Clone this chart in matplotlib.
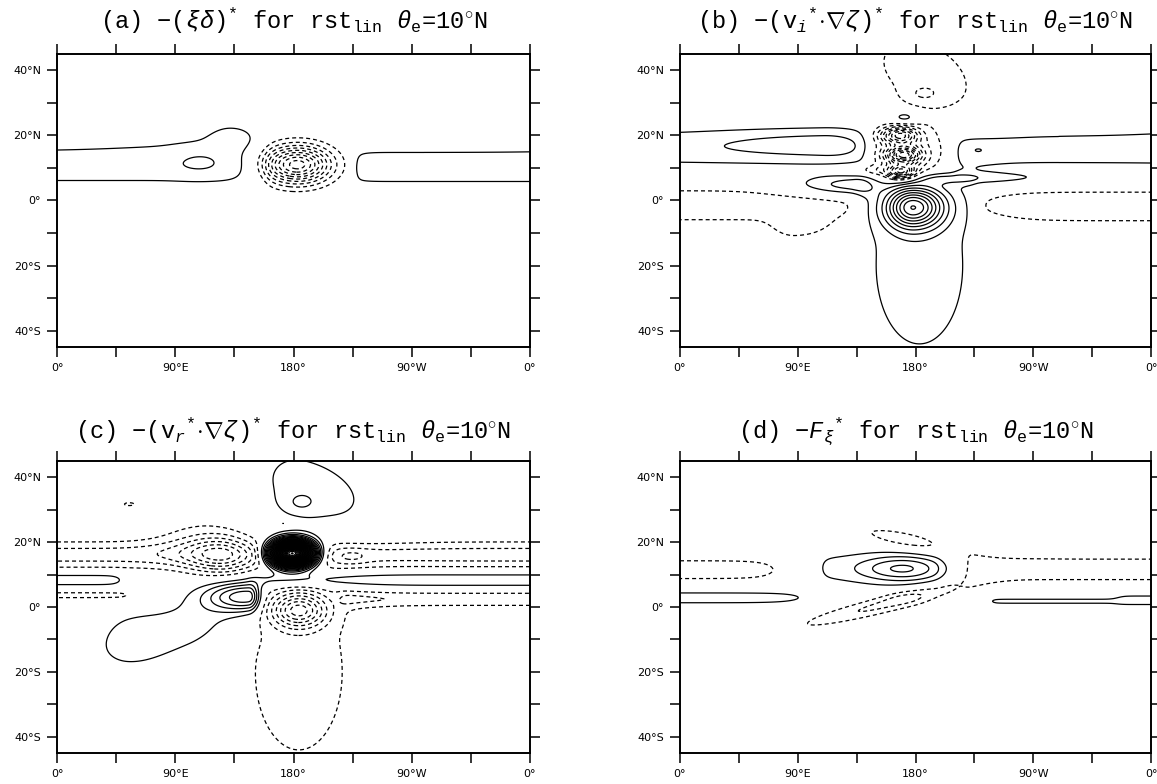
import numpy as np
import matplotlib
matplotlib.use("Agg")
import matplotlib.pyplot as plt

plt.rcParams['font.family'] = 'DejaVu Sans'
plt.rcParams['mathtext.fontset'] = 'custom'
plt.rcParams['mathtext.rm'] = 'Liberation Mono'
plt.rcParams['mathtext.it'] = 'Liberation Mono:italic'
plt.rcParams['mathtext.bf'] = 'Liberation Mono:bold'

lon = np.linspace(0, 360, 361)
lat = np.linspace(-45, 45, 361)
LON, LAT = np.meshgrid(lon, lat)

# features, contour interval = 1
# blob: lon0, lat0, sigma west, sigma east, sigma lat, amplitude, tilt (deg lat per deg lon)
# band: lat0, sigma lat, amplitude, west end, east end, end softness
a_bands = [
    (10.7, 4.7, 1.6, -400, 160, 6),
    (10.3, 4.6, 1.6, 226, 800, 3),
]
a_blobs = [
    (108, 12.3, 14, 14, 3.2, 0.6, 0),
    (100, 19.0, 60, 30, 3.0, 0.4, 0),
    (133, 19.5, 12, 14, 3.0, 1.2, 0),
    (183, 11.0, 18.4, 17, 3.9, -9.5, 0),
]

b_bands = [
    (16.0, 4.8, 1.5, -400, 143, 5),
    (15.6, 4.6, 1.5, 210, 800, 4),
    (-1.35, 5.05, -1.5, -400, 137, 6),
    (-1.75, 4.95, -1.5, 226, 800, 4),
]
b_blobs = [
    (110, 17.5, 60, 20, 3.0, 1.2, 0),
    (228, 15.5, 5, 5, 0.9, 0.55, 0),
    (175, 13.5, 18, 18, 6.0, -3.5, 0),
    (168, 20.0, 10, 9, 1.8, -7.0, 0),
    (171, 14.0, 9, 8, 1.7, -8.0, 0),
    (169, 8.8, 7, 7, 1.5, -7.0, 0),
    (148, 9.3, 22, 10, 1.2, -1.5, 0),
    (133, 4.6, 33, 12, 2.2, 2.8, 0),
    (178, -2.0, 14, 16, 4.5, 9.0, 0),
    (200, 6.8, 15, 60, 1.3, 1.8, 0),
    (183, -20.0, 36.7, 36.7, 26.7, 1.5, 0),
    (188, 38.0, 36, 36, 11, -1.6, -0.12),
    (186, 32.7, 10, 10, 2.0, -1.0, 0),
    (172, 25.5, 8, 8, 1.5, 2.0, 0),
    (88, -8.0, 12, 20, 3.0, -1.2, 0),
]

c_bands = [
    (16.1, 2.92, -2.5, -400, 800, 5),
    (8.4, 1.76, 1.8, 150, 800, 8),
    (8.45, 1.45, 1.8, -400, 49, 8),
    (2.45, 1.8, -1.8, 215, 800, 5),
    (3.65, 0.7, -1.8, -400, 54, 6),
]
c_blobs = [
    (179, 16.5, 11, 11, 2.6, 40, 0),
    (125, 16.0, 18, 14, 4.0, -3.5, 0),
    (108, 20.0, 25, 20, 5.0, -1.2, 0),
    (225, 15.5, 8, 8, 1.5, -0.8, 0),
    (55, 31.7, 5, 5, 0.6, -1.3, 0),
    (173, 25.8, 7, 7, 0.9, -1.4, 0),
    (146, 3.2, 22, 6, 3.2, 6.0, 0),
    (100, -6.0, 45, 30, 6.0, 1.6, 0.11),
    (55, -9.5, 15, 18, 6.0, 0.85, 0),
    (184, -1.0, 14, 14, 3.6, -6.5, 0),
    (184, -20.0, 36.7, 36.7, 26.7, -1.5, 0),
    (190, 36.0, 30, 42, 10, 1.6, -0.1),
    (185, 32.0, 10, 10, 2.5, 1.0, 0),
]

d_bands = [
    (11.6, 3.5, -1.5, 218, 800, 4),
    (11.5, 3.05, -1.5, -400, 78, 20),
    (2.9, 1.65, 1.6, -400, 97, 25),
    (1.8, 1.0, 1.25, 235, 800, 5),
    (2.8, 1.4, 0.8, 335, 800, 5),
    (12.0, 4.3, 1.25, 105, 200, 6),
]
d_blobs = [
    (170, 11.8, 22, 20, 2.7, 3.0, 0),
    (174, 20.5, 30, 30, 2.2, -1.6, -0.08),
    (162, 1.4, 50, 40, 2.0, -2.3, 0.1),
    (172, 2.8, 12, 12, 1.6, -0.5, 0),
]

titles = [
    r'(a) $-(\xi\delta)^{*}$ for rst$_{\mathrm{lin}}$ $\theta_{\mathrm{e}}$=10$^{\circ}$N',
    r'(b) $-(\mathrm{v}_{i}{}^{*}\!\cdot\!\nabla\zeta)^{*}$ for rst$_{\mathrm{lin}}$ $\theta_{\mathrm{e}}$=10$^{\circ}$N',
    r'(c) $-(\mathrm{v}_{r}{}^{*}\!\cdot\!\nabla\zeta)^{*}$ for rst$_{\mathrm{lin}}$ $\theta_{\mathrm{e}}$=10$^{\circ}$N',
    r'(d) $-F_{\xi}{}^{*}$ for rst$_{\mathrm{lin}}$ $\theta_{\mathrm{e}}$=10$^{\circ}$N',
]
xticklabels = ['0°', '', '90°E', '', '180°', '', '90°W', '', '0°']
yticklabels = ['40°S', '', '20°S', '', '0°', '', '20°N', '', '40°N']


def field(blobs, bands):
    f = np.zeros_like(LON)
    for lon0, lat0, sw, se, sy, amp, tilt in blobs:
        dx = (LON - lon0 + 180) % 360 - 180
        sx = np.where(dx < 0, sw, se)
        yc = lat0 + tilt * dx
        f += amp * np.exp(-0.5 * (dx / sx) ** 2 - 0.5 * ((LAT - yc) / sy) ** 2)
    for lat0, sy, amp, lw, le, edge in bands:
        taper = 0.25 * (1 + np.tanh((LON - lw) / edge)) * (1 - np.tanh((LON - le) / edge))
        f += amp * taper * np.exp(-0.5 * ((LAT - lat0) / sy) ** 2)
    return f


def draw(ax, f, title, gap):
    n = int(np.ceil(np.abs(f).max()))
    pos = np.arange(1, n + 1)
    neg = -pos[::-1]
    neg = neg[neg >= f.min()]
    pos = pos[pos <= f.max()]
    if len(neg):
        ax.contour(lon, lat, f, levels=neg, colors='k', linewidths=0.9,
                   linestyles=[(0, (3.2, 2.4))])
    if len(pos):
        ax.contour(lon, lat, f, levels=pos, colors='k', linewidths=0.9,
                   linestyles='solid')
    ax.set_xlim(0, 360)
    ax.set_ylim(-45, 45)
    ax.set_xticks(np.arange(0, 361, 45))
    ax.set_xticklabels(xticklabels)
    ax.set_yticks(np.arange(-40, 41, 10))
    ax.set_yticklabels(yticklabels)
    ax.tick_params(direction='out', top=True, right=True, length=7.5, width=1.1,
                   labelsize=8, pad=4)
    for s in ax.spines.values():
        s.set_linewidth(1.4)
    pp = ax.get_position()
    fig.text((pp.x0 + pp.x1) / 2, pp.y1 + gap / 784, title, ha='center',
             va='baseline', fontsize=17, family='Liberation Mono')


fig = plt.figure(figsize=(11.57, 7.84), dpi=100)
W, H = 1157, 784
boxes = [(57, 54, 473, 293), (680, 54, 471, 293), (57, 461, 473, 292), (680, 461, 471, 292)]
gaps = [25, 25, 22, 22]
data = [(a_blobs, a_bands), (b_blobs, b_bands), (c_blobs, c_bands), (d_blobs, d_bands)]
for (x, y, w, h), (bl, bd), t, g in zip(boxes, data, titles, gaps):
    ax = fig.add_axes([x / W, 1 - (y + h) / H, w / W, h / H])
    draw(ax, field(bl, bd), t, g)

fig.savefig('out.png', dpi=100)
